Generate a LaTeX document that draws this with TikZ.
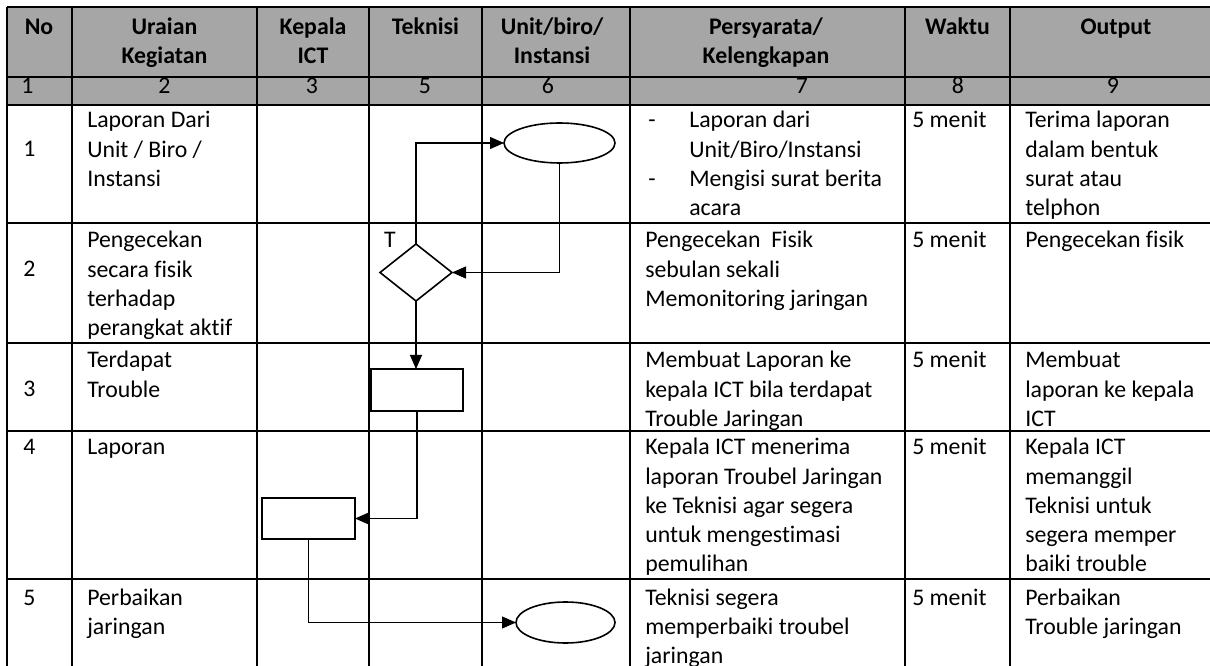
\documentclass[tikz,border=0pt]{standalone}
\usepackage{fontspec}
\setmainfont[Ligatures=NoCommon]{Carlito}
\usetikzlibrary{shapes.geometric,arrows.meta}
\definecolor{headgray}{HTML}{A6A6A6}

\newcommand\bodyfont{\fontsize{17.85}{21.75}\selectfont}
% name, x, first baseline, comma separated lines
\newcommand\celllines[4]{%
  \foreach \txtline [count=\idx from 0] in {#4}{%
    \node[txt] (#1-\idx) at (#2, #3+\idx*29.2) {\txtline};
  }}

\begin{document}
\begin{tikzpicture}[x=0.75pt, y=-0.75pt,
  txt/.style={anchor=base west, inner sep=0pt, font=\bodyfont},
  ctxt/.style={anchor=base, inner sep=0pt, font=\bodyfont},
  head/.style={anchor=base, inner sep=0pt, font=\bodyfont\bfseries},
  gridline/.style={line width=1.5pt},
  flow/.style={line width=0.8pt, -{Triangle[length=10.5pt,width=9pt]}},
  term/.style={ellipse, draw, line width=1.2pt, inner sep=0pt, outer sep=0pt},
  proc/.style={rectangle, draw, line width=1.4pt, inner sep=0pt, outer sep=0pt},
  dec/.style={diamond, draw, line width=1.2pt, inner sep=0pt, outer sep=0pt}]

\useasboundingbox (0,0) rectangle (1210,666);

% header band and column-number band
\fill[headgray] (7,7) rectangle (1222,105);

% table rules
\foreach \yy in {7,77,105,223,343,431,579}
  \draw[gridline] (7,\yy) -- (1222,\yy);
\foreach \xx in {7,72,257,369,482,630,905,1010,1222}
  \draw[gridline] (\xx,7) -- (\xx,670);

% column headings
\node[head, anchor=base west] (hNo) at (24.5,35) {No};
\node[head] (hUr1) at (164.5,35) {Uraian};
\node[head] (hUr2) at (164.5,64) {Kegiatan};
\node[head] (hKp1) at (313,35) {Kepala};
\node[head] (hKp2) at (313,64) {ICT};
\node[head] (hTk) at (425.5,35) {Teknisi};
\node[head] (hUn1) at (552,35) {Unit/biro/};
\node[head] (hUn2) at (552,64) {Instansi};
\node[head] (hPs1) at (766,35) {Persyarata/};
\node[head] (hPs2) at (766,64) {Kelengkapan};
\node[head] (hWk) at (957.5,35) {Waktu};
\node[head] (hOut) at (1116,35) {Output};

% column numbers
\node[txt] (n1) at (21,94) {1};
\node[ctxt] (n2) at (164.5,94) {2};
\node[ctxt] (n3) at (312,94) {3};
\node[ctxt] (n5) at (425,94) {5};
\node[ctxt] (n6) at (548,94) {6};
\node[ctxt] (n7) at (802,94) {7};
\node[ctxt] (n8) at (958,94) {8};
\node[ctxt] (n9) at (1113,94) {9};

% row numbers
\node[txt] (r1no) at (23,157) {1};
\node[txt] (r2no) at (23,277) {2};
\node[txt] (r3no) at (23,397) {3};
\node[txt] (r4no) at (23,455) {4};
\node[txt] (r5no) at (23,605) {5};

% activities
\celllines{act1}{87}{128}{Laporan Dari,Unit / Biro /,Instansi}
\celllines{act2}{87}{248}{Pengecekan,secara fisik,terhadap,perangkat aktif}
\celllines{act3}{87}{368}{Terdapat,Trouble}
\celllines{act4}{87}{455}{Laporan}
\celllines{act5}{87}{605}{Perbaikan,jaringan}

% requirements
\node[txt] (dash1) at (648,128) {-};
\node[txt] (dash2) at (648,186.4) {-};
\celllines{req1}{689}{128}{Laporan dari,Unit/Biro/Instansi,Mengisi surat berita,acara}
\celllines{req2}{645}{248}{Pengecekan\ \ Fisik,sebulan sekali,Memonitoring jaringan}
\celllines{req3}{645}{368}{Membuat Laporan ke,kepala ICT bila terdapat,Trouble Jaringan}
\celllines{req4}{645}{455}{Kepala ICT menerima,laporan Troubel Jaringan,ke Teknisi agar segera,untuk mengestimasi,pemulihan}
\celllines{req5}{645}{605}{Teknisi segera,memperbaiki troubel,jaringan}

% time
\node[txt] (t1) at (912,128) {5 menit};
\node[txt] (t2) at (912,248) {5 menit};
\node[txt] (t3) at (912,368) {5 menit};
\node[txt] (t4) at (912,455) {5 menit};
\node[txt] (t5) at (912,605) {5 menit};

% output
\celllines{out1}{1025}{128}{Terima laporan,dalam bentuk,surat atau,telphon}
\celllines{out2}{1025}{248}{Pengecekan fisik}
\celllines{out3}{1025}{368}{Membuat,laporan ke kepala,ICT}
\celllines{out4}{1025}{455}{Kepala ICT,memanggil,Teknisi untuk,segera memper,baiki trouble}
\celllines{out5}{1025}{605}{Perbaikan,Trouble jaringan}

% flow symbols
\node[term, minimum width=83.25pt, minimum height=30pt] (start) at (559.5,143) {};
\node[dec, minimum width=54pt, minimum height=42.75pt] (check) at (416,272.5) {};
\node[proc, minimum width=69pt, minimum height=31.5pt] (trouble) at (417,390) {};
\node[proc, minimum width=69.75pt, minimum height=30.75pt] (report) at (308.5,518.5) {};
\node[term, minimum width=74.25pt, minimum height=30.75pt] (finish) at (565.5,622.5) {};
\node[txt, anchor=base] (tlabel) at (390,248) {T};

% connectors
\draw[flow] (check.north) |- (start.west);
\draw[flow] (start.south) |- (check.east);
\draw[flow] (check.south) -- (check.south |- trouble.north);
\draw[flow] (trouble.south) |- (report.east);
\draw[flow] (report.south) |- (finish.west);

\end{tikzpicture}
\end{document}
